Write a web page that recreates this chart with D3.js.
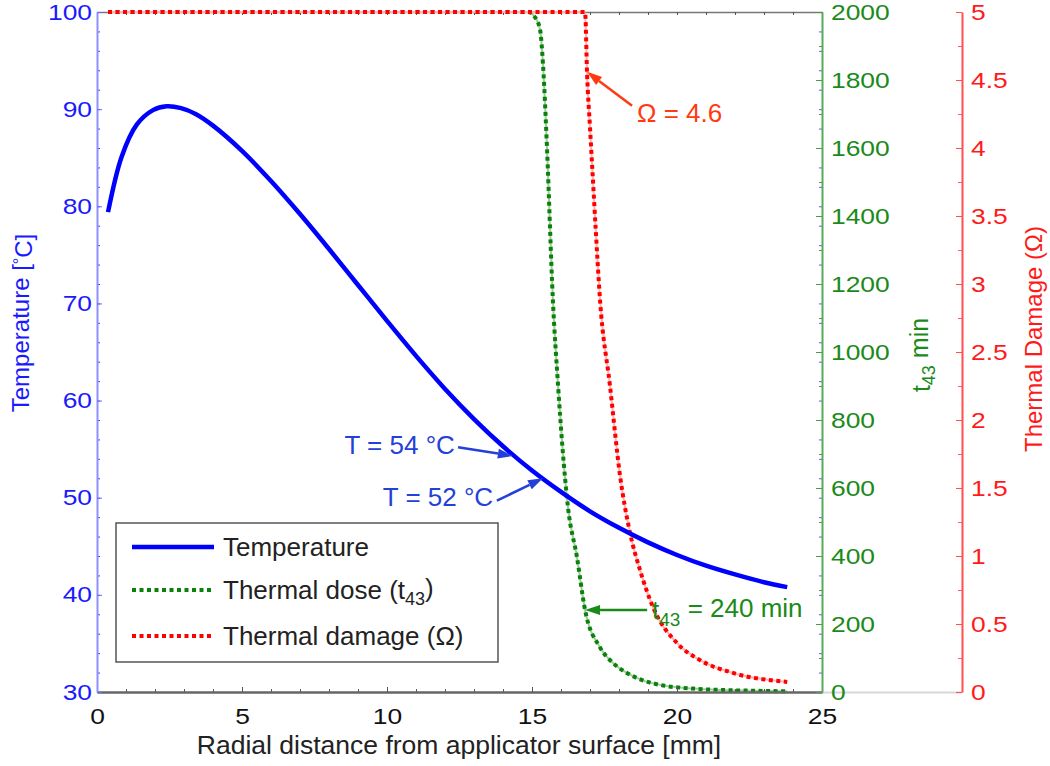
<!DOCTYPE html>
<html>
<head>
<meta charset="utf-8">
<script src="https://cdn.jsdelivr.net/npm/d3@7"></script>
<style>
  body { margin: 0; background: #fff; }
  svg { display: block; font-family: "Liberation Sans", Arial, sans-serif; }
</style>
</head>
<body>
<svg id="chart" width="1050" height="766"></svg>
<script>
// temperature profile (mm, °C)
const tempDist = [0.38, 0.85, 1.37, 1.93, 2.4, 2.9, 3.4, 4, 5, 6, 7, 8, 9, 10, 11, 12, 13, 14, 15, 16, 17, 18, 19, 20, 21, 22, 23, 23.8];
const tempVals = [79.4, 85.1, 88.4, 89.9, 90.3, 90.1, 89.5, 88.3, 85.7, 82.6, 79.2, 75.6, 71.9, 68.2, 64.6, 61.2, 58.1, 55.3, 52.8, 50.6, 48.6, 46.9, 45.4, 44.1, 43.0, 42.1, 41.3, 40.8];

// thermal dose t43 (min), clipped at axis top
const doseDist = [0.38, 4, 8, 12, 14, 14.86, 15.1, 15.28, 15.38, 15.52, 15.72, 15.9, 16.05, 16.24, 16.55, 16.83, 17.34, 17.8, 18.27, 18.8, 19.41, 20.55, 21.5, 22.5, 23.8];
const doseVals = [2000, 2000, 2000, 2000, 2000, 2000, 1985, 1947, 1845, 1594, 1153, 900, 720, 544, 397, 241, 132, 85, 56, 35, 21, 10, 6, 4, 2];

// thermal damage Omega, clipped at axis top
const damageDist = [0.38, 4, 8, 12, 16, 16.83, 16.9, 17.0, 17.1, 17.2, 17.34, 17.69, 18.03, 18.38, 18.72, 19.17, 20.0, 20.79, 21.93, 23.8];
const damageVals = [5, 5, 5, 5, 5, 5, 4.54, 4.15, 3.77, 3.39, 2.9, 2.25, 1.6, 1.17, 0.9, 0.625, 0.36, 0.235, 0.14, 0.074];

const xTicks = [0, 5, 10, 15, 20, 25];
const tempTicks = [30, 40, 50, 60, 70, 80, 90, 100];
const doseTicks = [0, 200, 400, 600, 800, 1000, 1200, 1400, 1600, 1800, 2000];
const damageTicks = [0, 0.5, 1, 1.5, 2, 2.5, 3, 3.5, 4, 4.5, 5];

// annotations: arrow tip, arrow tail and label anchor in data units
const tempNotes = [
  { label: "T = 54 °C", tip: [14.34, 54.3], tail: [12.45, 55.2], at: [12.34, 55.4] },
  { label: "T = 52 °C", tip: [15.38, 52.0], tail: [13.79, 49.7], at: [13.66, 50.05] }
];
const doseNote = { tip: [16.83, 241], tail: [18.97, 241], at: [19.14, 241] };
const damageNote = { label: "Ω = 4.6", tip: [16.9, 4.56], tail: [18.45, 4.31], at: [18.62, 4.26] };

const svg = d3.select("#chart");

const x = d3.scaleLinear().domain([0, 25]).range([97, 822]);
const yTemp = d3.scaleLinear().domain([30, 100]).range([692, 12]);
const yDose = d3.scaleLinear().domain([0, 2000]).range([692, 12]);
const yDmg = d3.scaleLinear().domain([0, 5]).range([692, 12]);

const blue = "#0000ff", green = "#0b800b", red = "#ff0000";

function stretchLabels(g, color) {
  g.selectAll("text")
    .attr("fill", color)
    .style("font-size", "22px")
    .attr("transform", "scale(1.2,1)")
    .each(function () {
      const t = d3.select(this);
      if (t.attr("x") !== null) t.attr("x", +t.attr("x") / 1.2);
    });
}

// light grey bottom line to the far axis
svg.append("line").attr("x1", 822).attr("x2", 962).attr("y1", 692.5).attr("y2", 692.5)
  .attr("stroke", "#d8d8d8").attr("stroke-width", 2);

// top border with minor ticks
const topAx = svg.append("g").attr("transform", "translate(0,12)")
  .call(d3.axisTop(x).tickValues(d3.range(0, 26, 1)).tickSize(-3).tickSizeOuter(0).tickFormat(""));
topAx.select(".domain").attr("stroke", "#777").attr("stroke-width", 1.5);
topAx.selectAll(".tick line").attr("stroke", "#555");

// curves
const smooth = d3.curveCatmullRom.alpha(0.5);
const lineTemp = d3.line().x((d, i) => x(tempDist[i])).y(d => yTemp(d)).curve(smooth);
const lineDose = d3.line().x((d, i) => x(doseDist[i])).y(d => yDose(d)).curve(d3.curveMonotoneX);
const lineDmg = d3.line().x((d, i) => x(damageDist[i])).y(d => yDmg(d)).curve(d3.curveMonotoneX);

svg.append("path").attr("d", lineDose(doseVals)).attr("fill", "none")
  .attr("stroke", "#9ccc9c").attr("stroke-width", 2);
svg.append("path").attr("d", lineDose(doseVals)).attr("fill", "none")
  .attr("stroke", green).attr("stroke-width", 4).attr("stroke-dasharray", "4,3.5");
svg.append("path").attr("d", lineDmg(damageVals)).attr("fill", "none")
  .attr("stroke", "#ffb0b0").attr("stroke-width", 2);
svg.append("path").attr("d", lineDmg(damageVals)).attr("fill", "none")
  .attr("stroke", red).attr("stroke-width", 4).attr("stroke-dasharray", "4,3.5");
svg.append("path").attr("d", lineTemp(tempVals)).attr("fill", "none")
  .attr("stroke", blue).attr("stroke-width", 4.5);

// bottom axis
const botMinor = svg.append("g").attr("transform", "translate(0,692)")
  .call(d3.axisBottom(x).tickValues(d3.range(0, 26, 1)).tickSize(-3).tickSizeOuter(0).tickFormat(""));
botMinor.select(".domain").remove();
botMinor.selectAll(".tick line").attr("stroke", "#555");
const botAx = svg.append("g").attr("transform", "translate(0,692)")
  .call(d3.axisBottom(x).tickValues(xTicks).tickSize(-5).tickSizeOuter(0).tickPadding(16));
botAx.select(".domain").attr("stroke", "#666").attr("stroke-width", 2.5);
botAx.selectAll(".tick line").attr("stroke", "#555");
stretchLabels(botAx, "#111");

// left temperature axis
const leftMinor = svg.append("g").attr("transform", "translate(97,0)")
  .call(d3.axisLeft(yTemp).tickValues(d3.range(30, 101, 2)).tickSize(-3).tickSizeOuter(0).tickFormat(""));
leftMinor.select(".domain").remove();
leftMinor.selectAll(".tick line").attr("stroke", "#3a3aff");
const leftAx = svg.append("g").attr("transform", "translate(97,0)")
  .call(d3.axisLeft(yTemp).tickValues(tempTicks).tickSize(-5).tickSizeOuter(0).tickPadding(5));
leftAx.select(".domain").attr("stroke", "#8f8fff").attr("stroke-width", 2);
leftAx.selectAll(".tick line").attr("stroke", "#6a6aff");
stretchLabels(leftAx, "#1a1aff");

// green dose axis, with mirrored temperature minor ticks
const mirror = svg.append("g").attr("transform", "translate(822,0)")
  .call(d3.axisRight(yTemp).tickValues(d3.range(30, 101, 2)).tickSize(-3).tickSizeOuter(0).tickFormat(""));
mirror.select(".domain").remove();
mirror.selectAll(".tick line").attr("stroke", "#5a5aff");
const doseMinor = svg.append("g").attr("transform", "translate(822,0)")
  .call(d3.axisRight(yDose).tickValues(d3.range(0, 2001, 100)).tickSize(-3).tickSizeOuter(0).tickFormat(""));
doseMinor.select(".domain").remove();
doseMinor.selectAll(".tick line").attr("stroke", "#4a9a4a");
const doseAx = svg.append("g").attr("transform", "translate(822,0)")
  .call(d3.axisRight(yDose).tickValues(doseTicks).tickSize(-6).tickSizeOuter(0).tickPadding(9)
    .tickFormat(d3.format("d")));
doseAx.select(".domain").attr("stroke", "#5aa85a").attr("stroke-width", 2);
doseAx.selectAll(".tick line").attr("stroke", "#4a9a4a");
stretchLabels(doseAx, "#1a8a1a");

// red damage axis
const dmgMinor = svg.append("g").attr("transform", "translate(962,0)")
  .call(d3.axisRight(yDmg).tickValues(d3.range(0, 5.01, 0.25)).tickSize(-4).tickSizeOuter(0).tickFormat(""));
dmgMinor.select(".domain").remove();
dmgMinor.selectAll(".tick line").attr("stroke", "#ff6060");
const dmgAx = svg.append("g").attr("transform", "translate(962,0)")
  .call(d3.axisRight(yDmg).tickValues(damageTicks).tickSize(-6).tickSizeOuter(0).tickPadding(9)
    .tickFormat(d3.format("~g")));
dmgAx.select(".domain").attr("stroke", "#ff5050").attr("stroke-width", 2);
dmgAx.selectAll(".tick line").attr("stroke", "#ff5050");
stretchLabels(dmgAx, "#ff1a1a");

// axis titles
svg.append("text").attr("transform", "translate(459,754)")
  .attr("text-anchor", "middle").style("font-size", "26.5px").attr("fill", "#222")
  .text("Radial distance from applicator surface [mm]");

const tTitle = svg.append("text").attr("transform", "translate(21,323) rotate(-90)")
  .attr("text-anchor", "middle").attr("dy", "0.35em").style("font-size", "24px").attr("fill", "#1a1aff");
tTitle.append("tspan").text("Temperature  [");
tTitle.append("tspan").text("°").attr("dy", "-0.3em").style("font-size", "16px");
tTitle.append("tspan").text("C]").attr("dy", "0.3em");

const dTitle = svg.append("text").attr("transform", "translate(921,355) rotate(-90)")
  .attr("text-anchor", "middle").attr("dy", "0.35em").style("font-size", "25px").attr("fill", "#1a8a1a");
dTitle.append("tspan").text("t");
dTitle.append("tspan").text("43").attr("dy", "0.3em").style("font-size", "18px");
dTitle.append("tspan").text(" min").attr("dy", "-0.3em");

svg.append("text").attr("transform", "translate(1034,339) rotate(-90)")
  .attr("text-anchor", "middle").attr("dy", "0.35em").style("font-size", "24px").attr("fill", "#ff1a1a")
  .text("Thermal Damage (Ω)");

// annotations
function arrow(x1, y1, x2, y2, color) {
  const a = Math.atan2(y2 - y1, x2 - x1), len = 15, half = 5;
  const bx = x2 - len * Math.cos(a), by = y2 - len * Math.sin(a);
  svg.append("line").attr("x1", x1).attr("y1", y1).attr("x2", bx).attr("y2", by)
    .attr("stroke", color).attr("stroke-width", 2.5);
  svg.append("path").attr("fill", color)
    .attr("d", `M${x2},${y2}L${bx - half * Math.sin(a)},${by + half * Math.cos(a)}L${bx + half * Math.sin(a)},${by - half * Math.cos(a)}Z`);
}

tempNotes.forEach(n => {
  arrow(x(n.tail[0]), yTemp(n.tail[1]), x(n.tip[0]), yTemp(n.tip[1]), "#2440d8");
  svg.append("text").attr("x", x(n.at[0])).attr("y", yTemp(n.at[1])).attr("dy", "0.35em")
    .attr("text-anchor", "end").style("font-size", "26px").attr("fill", "#2440d8").text(n.label);
});

arrow(x(doseNote.tail[0]), yDose(doseNote.tail[1]), x(doseNote.tip[0]), yDose(doseNote.tip[1]), "#1a8a1a");
const dn = svg.append("text").attr("x", x(doseNote.at[0])).attr("y", yDose(doseNote.at[1])).attr("dy", "0.35em")
  .style("font-size", "26px").attr("fill", "#1a8a1a");
dn.append("tspan").text("t");
dn.append("tspan").text("43").attr("dy", "0.35em").style("font-size", "19px");
dn.append("tspan").text(" = 240 min").attr("dy", "-0.35em");

arrow(x(damageNote.tail[0]), yDmg(damageNote.tail[1]), x(damageNote.tip[0]), yDmg(damageNote.tip[1]), "#ff3a10");
svg.append("text").attr("x", x(damageNote.at[0])).attr("y", yDmg(damageNote.at[1])).attr("dy", "0.35em")
  .style("font-size", "26px").attr("fill", "#ff3a10").text(damageNote.label);

// legend
const legendItems = [
  { name: "Temperature", sub: null, color: blue, dash: null },
  { name: "Thermal dose (t", sub: "43", tail: ")", color: green, dash: "4,3.5" },
  { name: "Thermal damage (Ω)", sub: null, color: red, dash: "4,3.5" }
];
const legend = svg.append("g").attr("transform", "translate(116,523)");
legend.append("rect").attr("width", 382).attr("height", 139)
  .attr("fill", "#fff").attr("stroke", "#555").attr("stroke-width", 1.5);
const legendY = [24, 67, 113];
legendItems.forEach((it, i) => {
  legend.append("line").attr("x1", 16).attr("x2", 98).attr("y1", legendY[i]).attr("y2", legendY[i])
    .attr("stroke", it.color).attr("stroke-width", it.dash ? 4 : 4.5)
    .attr("stroke-dasharray", it.dash);
  const t = legend.append("text").attr("x", 107).attr("y", legendY[i]).attr("dy", "0.35em")
    .style("font-size", "26px").attr("fill", "#222");
  t.append("tspan").text(it.name);
  if (it.sub) {
    t.append("tspan").text(it.sub).attr("dy", "0.3em").style("font-size", "18px");
    t.append("tspan").text(it.tail).attr("dy", "-0.3em");
  }
});
</script>
</body>
</html>
